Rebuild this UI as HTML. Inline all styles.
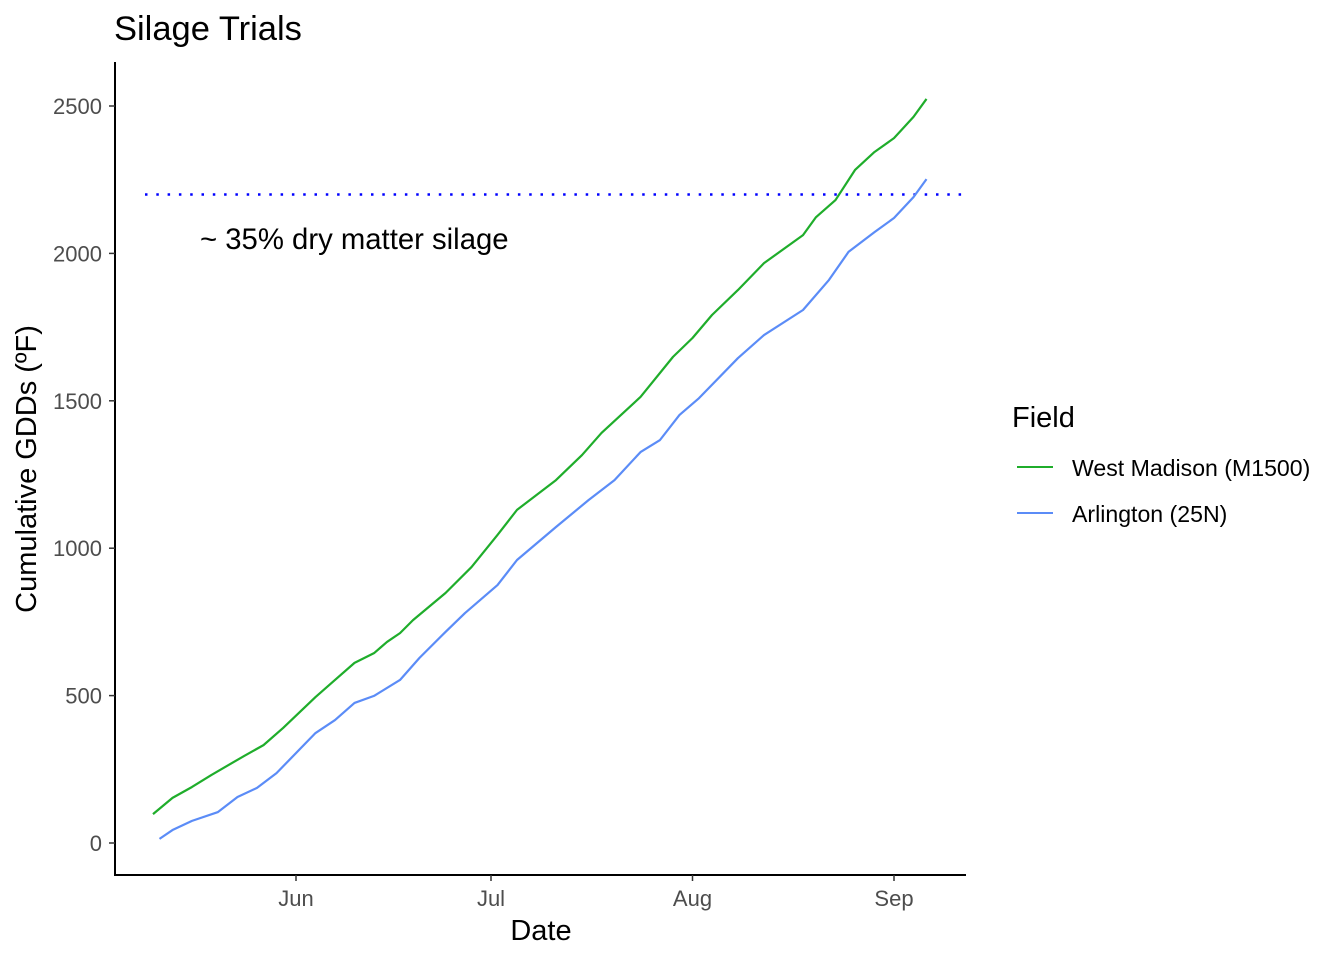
<!DOCTYPE html>
<html><head><meta charset="utf-8"><style>
body{margin:0;background:#fff;font-family:"Liberation Sans",sans-serif}
</style></head><body>
<svg id="chart" width="1344" height="960" xmlns="http://www.w3.org/2000/svg" font-family="Liberation Sans, sans-serif">
<text x="114" y="40" font-size="34.5" fill="#000">Silage Trials</text>
<g id="plot"></g>
<line x1="115" y1="62" x2="115" y2="876" stroke="#000" stroke-width="2"/>
<line x1="114" y1="875" x2="966" y2="875" stroke="#000" stroke-width="2"/>
<text x="541" y="940" font-size="29" text-anchor="middle">Date</text>
<text transform="translate(36,469) rotate(-90)" font-size="29" text-anchor="middle">Cumulative GDDs (ºF)</text>
<text x="200" y="249" font-size="29.3">~ 35% dry matter silage</text>
<g>
<text x="1012" y="427" font-size="29">Field</text>
<line x1="1017" y1="467" x2="1053" y2="467" stroke="#1fad2b" stroke-width="2"/>
<text x="1072" y="476" font-size="23.1">West Madison (M1500)</text>
<line x1="1017" y1="513" x2="1053" y2="513" stroke="#5b8cf7" stroke-width="2"/>
<text x="1072" y="522" font-size="23.1">Arlington (25N)</text>
</g>
</svg>
<script>
const yTicks=[0,500,1000,1500,2000,2500];
const xTickLabels=["Jun","Jul","Aug","Sep"];
const xTickDays=[0,30,61,92];
const threshold=2200;
const greenDays=[-22,-19,-16,-13,-8,-5,-2,3,6,9,12,14,16,18,23,27,31,34,40,44,47,53,58,61,64,68,72,78,80,83,86,89,92,95,97];
const greenVals=[98,153,190,231,295,332,390,495,553,611,644,682,712,756,848,936,1045,1130,1231,1316,1391,1513,1649,1713,1791,1876,1967,2062,2123,2181,2283,2344,2391,2463,2524];
const blueDays=[-21,-19,-16,-12,-9,-6,-3,3,6,9,12,16,19,23,26,31,34,40,45,49,53,56,59,62,68,72,78,82,85,89,92,95,97];
const blueVals=[14,44,75,105,156,187,237,373,417,475,499,553,628,716,780,875,960,1072,1163,1231,1326,1367,1452,1509,1645,1723,1808,1910,2005,2072,2120,2191,2252];
const NS="http://www.w3.org/2000/svg";
const xs=d=>296+d*6.5;
const ys=v=>843-v*147.4/500;
const svg=document.getElementById('chart');
const plot=document.getElementById('plot');
function mk(tag,attrs,parent){const e=document.createElementNS(NS,tag);for(const k in attrs)e.setAttribute(k,attrs[k]);(parent||svg).appendChild(e);return e;}
yTicks.forEach(v=>{
  const t=mk('line',{x1:109,x2:115,y1:ys(v),y2:ys(v),stroke:'#333','stroke-width':1.5});
  
  
  const l=mk('text',{x:102,y:ys(v)+8,'font-size':22,'text-anchor':'end',fill:'#4d4d4d'});
  l.textContent=v;
  
  
});
xTickDays.forEach((d,i)=>{
  const t=mk('line',{x1:xs(d),x2:xs(d),y1:875,y2:881,stroke:'#333','stroke-width':1.5});
  
  
  const l=mk('text',{x:xs(d),y:906,'font-size':22,'text-anchor':'middle',fill:'#4d4d4d'});
  l.textContent=xTickLabels[i];
  
  
});
const th=mk('line',{x1:145,x2:965,y1:ys(threshold),y2:ys(threshold),stroke:'#0000ff','stroke-width':2.5,'stroke-dasharray':'2.5 8.8'},plot);


function series(days,vals,color,name){
  const p=mk('polyline',{points:days.map((d,i)=>xs(d)+','+ys(vals[i])).join(' '),fill:'none',stroke:color,'stroke-width':2.2,'stroke-linejoin':'round'},plot);
  
  
}
series(greenDays,greenVals,'#1fad2b','west-madison-line');
series(blueDays,blueVals,'#5b8cf7','arlington-line');
</script>
</body></html>
